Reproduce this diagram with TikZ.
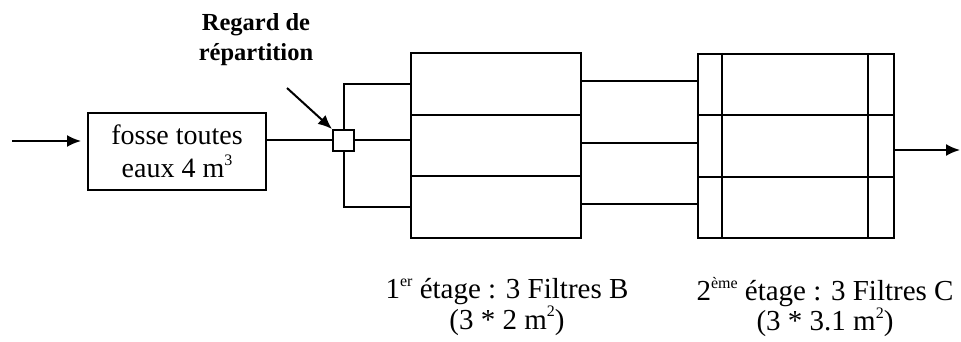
\documentclass[tikz,border=0pt]{standalone}
\usepackage{fontspec}
\setmainfont{Liberation Serif}
\usetikzlibrary{arrows.meta}
\newcommand\expo[1]{\raisebox{0.42em}{\fontsize{16}{16}\selectfont #1}}
\tikzset{tuyau/.style={line width=2pt}}
\tikzset{cuve/.style={draw, tuyau, inner sep=0pt}}
\tikzset{fleche/.style={tuyau, -{Latex[length=14pt, width=12pt]}}}
\tikzset{legende/.style={align=center, font=\fontsize{29}{24}\selectfont}}

\begin{document}
\begin{tikzpicture}[x=1pt, y=-1pt]
\path [use as bounding box] (0,0) rectangle (961,342);
% fosse et regard
\node [cuve, minimum width=178pt, minimum height=77pt, align=center, font=\fontsize{28}{33}\selectfont] (fosse) at (177,151.5) {fosse toutes\\eaux 4 m\expo{3}};
\node [cuve, minimum size=21pt] (regard) at (343.5,140.5) {};
\node [align=center, font=\fontsize{24.5}{30}\selectfont\bfseries] (titre) at (256,40) {Regard de\\répartition};
\coordinate (entree) at (12,141);
\coordinate (depart) at (287,88);
\coordinate (sortie) at (960,150);
% filtres
\foreach \i in {1,2,3} {
  \node [cuve, minimum width=170pt, minimum height=61.7pt, anchor=north] (b\i) at (496,{52+61.7*(\i-1)}) {};
  \node [cuve, minimum width=196pt, minimum height=61.3pt, anchor=north] (c\i) at (796,{53+61.3*(\i-1)}) {};
}
\draw [tuyau] ([xshift=25pt]c1.north west) -- ([xshift=25pt]c3.south west);
\draw [tuyau] ([xshift=-27pt]c1.north east) -- ([xshift=-27pt]c3.south east);
% liaisons
\draw [fleche, shorten >=6pt] (entree) -- (entree -| fosse.west);
\draw [tuyau] (fosse.east |- regard) -- (regard.west);
\draw [fleche] (depart) -- (regard.north west);
\draw [tuyau] (regard.north) |- (b1.west);
\draw [tuyau] (regard.south) |- (b3.west);
\draw [tuyau] (regard.east) -- (regard.east -| b2.west);
\foreach \i in {1,2,3}
  \draw [tuyau] ([yshift=3pt]b\i.east) -- ([yshift=3pt]b\i.east -| c\i.west);
\draw [fleche] (c2.east |- sortie) -- (sortie);
% legendes
\node [legende] (leg1) at (507,307) {1\expo{er} étage : 3 Filtres B\\(3 * 2 m\expo{2})};
\node [legende] (leg2) at (825,307) {2\expo{ème} étage : 3 Filtres C\\(3 * 3.1 m\expo{2})};
\end{tikzpicture}
\end{document}
